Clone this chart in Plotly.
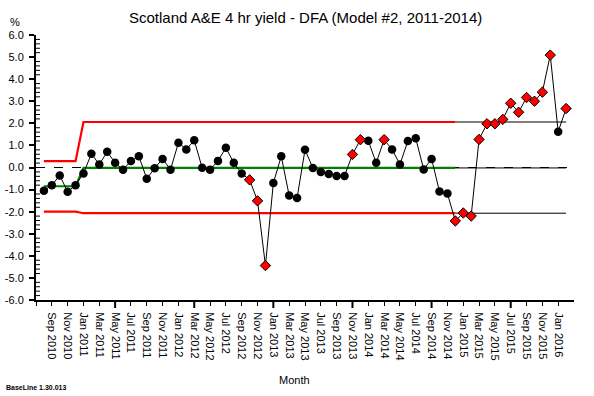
import pandas as pd
import plotly.graph_objects as go

# ---- data ----
months = [d.strftime("%b %Y") for d in pd.date_range("2010-08-01", "2016-02-01", freq="MS")]
values = [-1.05, -0.80, -0.36, -1.10, -0.80, -0.27, 0.62, 0.14, 0.71, 0.21,
          -0.10, 0.29, 0.51, -0.51, -0.03, 0.39, -0.10, 1.12, 0.82, 1.23,
          -0.01, -0.10, 0.30, 0.89, 0.21, -0.27, -0.56, -1.51, -4.44, -0.70,
          0.51, -1.27, -1.38, 0.80, -0.02, -0.20, -0.29, -0.38, -0.38, 0.59,
          1.26, 1.21, 0.21, 1.26, 0.82, 0.14, 1.20, 1.32, -0.09, 0.39,
          -1.09, -1.18, -2.42, -2.06, -2.20, 1.27, 1.98, 1.98, 2.18, 2.91,
          2.50, 3.17, 3.00, 3.41, 5.09, 1.62, 2.67]
signal = [0, 0, 0, 0, 0, 0, 0, 0, 0, 0,
          0, 0, 0, 0, 0, 0, 0, 0, 0, 0,
          0, 0, 0, 0, 0, 0, 1, 1, 1, 0,
          0, 0, 0, 0, 0, 0, 0, 0, 0, 1,
          1, 0, 0, 1, 0, 0, 0, 0, 0, 0,
          0, 0, 1, 1, 1, 1, 1, 1, 1, 1,
          1, 1, 1, 1, 1, 0, 1]
# control limit phases: last month index of each phase, and limits
phase_last = [4, 52]
phase_ucl = [0.29, 2.06]
phase_cl = [-0.85, -0.02]
phase_lcl = [-2.00, -2.07]
extend_to = 66  # limits projected (thin black) to this month index

y_tick_vals = [6, 5, 4, 3, 2, 1, 0, -1, -2, -3, -4, -5, -6]
y_tick_text = ["6.0", "5.0", "4.0", "3.0", "2.0", "1.0", "0.0", "-1.0", "-2.0", "-3.0", "-4.0", "-5.0", "-6.0"]

# ---- build ----
x = list(range(len(months)))
ucl, cl, lcl = [], [], []
start = 0
for last, u, c, l in zip(phase_last, phase_ucl, phase_cl, phase_lcl):
    for i in range(start, last + 1):
        ucl.append(u); cl.append(c); lcl.append(l)
    start = last + 1
nb = len(ucl)

FONT = "Liberation Sans, Arial, sans-serif"
fig = go.Figure()

# zero dashed reference line
fig.add_shape(type="line", xref="paper", yref="y", x0=0, x1=1, y0=0, y1=0,
              line=dict(color="black", width=1, dash="dash"), layer="below")

# projected limits (thin black)
for arr in (ucl, cl, lcl):
    fig.add_trace(go.Scatter(x=[nb - 1, extend_to], y=[arr[-1], arr[-1]], mode="lines",
                             line=dict(color="black", width=1), hoverinfo="skip", showlegend=False))
# limits
for arr, col in ((ucl, "#ff0000"), (lcl, "#ff0000"), (cl, "#008000")):
    fig.add_trace(go.Scatter(x=x[:nb], y=arr, mode="lines",
                             line=dict(color=col, width=2.2), hoverinfo="skip", showlegend=False))

# data line
fig.add_trace(go.Scatter(x=x, y=values, mode="lines", line=dict(color="black", width=1),
                         showlegend=False))
# normal points
fig.add_trace(go.Scatter(x=[xi for xi, s in zip(x, signal) if not s],
                         y=[v for v, s in zip(values, signal) if not s],
                         mode="markers", marker=dict(symbol="circle", size=8.5, color="black"),
                         showlegend=False))
# signal points
fig.add_trace(go.Scatter(x=[xi for xi, s in zip(x, signal) if s],
                         y=[v for v, s in zip(values, signal) if s],
                         mode="markers",
                         marker=dict(symbol="diamond", size=8, color="#ff0000",
                                     line=dict(color="black", width=1)),
                         showlegend=False))

# x ticks every 2 months, labels from Sep 2010; longer ticks every 10 months
x_tick_vals = list(range(-1, len(months), 2))
x_tick_text = [""] + [months[i] for i in x_tick_vals[1:]]
major_x = x_tick_vals[5::5]
for mx in major_x:
    fig.add_shape(type="line", xref="x", yref="paper", x0=mx, x1=mx, ysizemode="pixel",
                  yanchor=0, y0=0, y1=-8, line=dict(color="black", width=2))
# minor y ticks (inside) every 0.2
for k in range(-30, 31):
    if k % 5:
        fig.add_shape(type="line", xref="paper", yref="y", xsizemode="pixel", xanchor=0,
                      x0=0, x1=4, y0=k / 5, y1=k / 5, line=dict(color="black", width=1))

fig.update_layout(
    width=594, height=396,
    margin=dict(l=36, r=20, t=35, b=96, autoexpand=False),
    paper_bgcolor="white", plot_bgcolor="white",
    font=dict(family=FONT, size=11, color="black"),
    xaxis=dict(range=[-1, 67], tickmode="array", tickvals=x_tick_vals, ticktext=x_tick_text,
               tickangle=90, ticks="outside", ticklen=4, tickwidth=1, tickcolor="black",
               ticklabelstandoff=4,
               showline=True, linecolor="black", linewidth=2, showgrid=False, zeroline=False,
               automargin=False, tickfont=dict(size=11)),
    yaxis=dict(range=[-6, 6], tickmode="array", tickvals=y_tick_vals, ticktext=y_tick_text,
               ticks="outside", ticklen=5, tickwidth=2, tickcolor="black",
               ticklabelstandoff=3,
               showline=True, linecolor="black", linewidth=2, showgrid=False, zeroline=False,
               automargin=False, tickfont=dict(size=11)),
    annotations=[
        dict(text="Scotland A&E 4 hr yield - DFA (Model #2, 2011-2014)", xref="paper", yref="paper",
             x=0.5, y=1 + 18 / 265, xanchor="center", yanchor="middle", showarrow=False,
             font=dict(size=15)),
        dict(text="%", xref="paper", yref="paper", x=-21 / 538, y=1 + 13 / 265,
             xanchor="center", yanchor="middle", showarrow=False, font=dict(size=11)),
        dict(text="Month", xref="paper", yref="paper", x=0.48, y=-80 / 265,
             xanchor="center", yanchor="middle", showarrow=False, font=dict(size=11)),
        dict(text="<b>BaseLine 1.30.013</b>", xref="paper", yref="paper", x=-32 / 538,
             y=-87 / 265, xanchor="left", yanchor="middle", showarrow=False, font=dict(size=7)),
    ],
)

fig.write_html("out.html", config={"displayModeBar": False, "staticPlot": True},
               post_script="document.body.style.margin='0px';")
